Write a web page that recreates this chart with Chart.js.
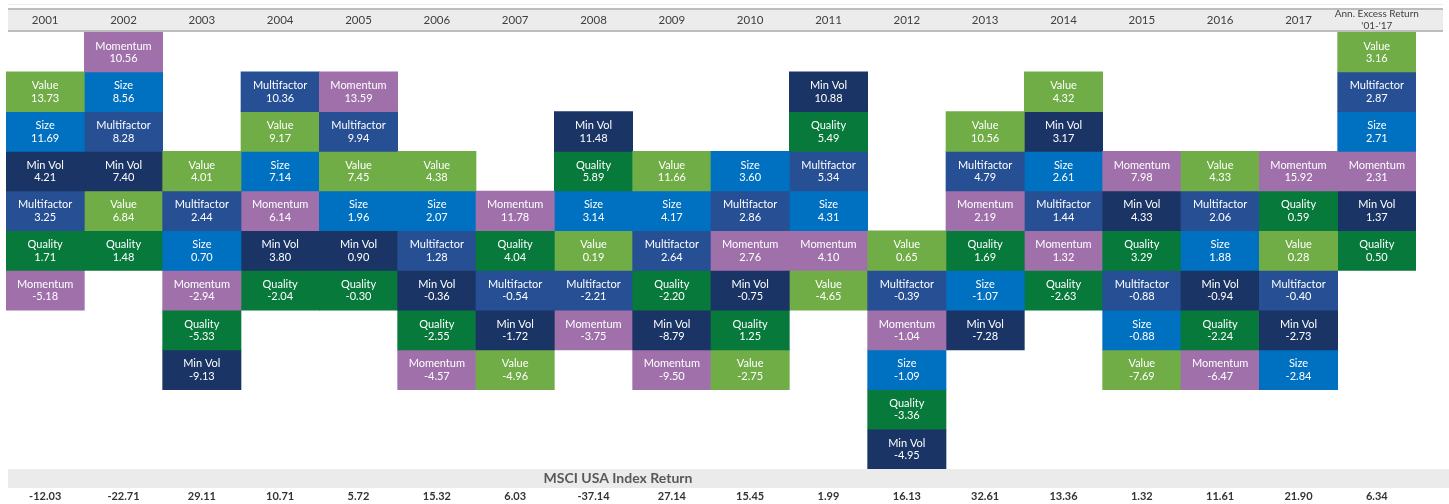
<!DOCTYPE html>
<html>
<head>
<meta charset="utf-8">
<script src="https://cdn.jsdelivr.net/npm/chart.js@4"></script>
<style>
  html, body { margin: 0; padding: 0; background: #fff; }
  #wrap { width: 1449px; height: 504px; }
</style>
</head>
<body>
<div id="wrap"><canvas id="chart"></canvas></div>
<script>
// columns
const years = ['2001', '2002', '2003', '2004', '2005', '2006', '2007', '2008', '2009',
  '2010', '2011', '2012', '2013', '2014', '2015', '2016', '2017', ['Ann. Excess Return', "'01-'17"]];

// factor ranking per column, top to bottom
const ranking = [
  ['Value', 'Size', 'Min Vol', 'Multifactor', 'Quality', 'Momentum'],
  ['Momentum', 'Size', 'Multifactor', 'Min Vol', 'Value', 'Quality'],
  ['Value', 'Multifactor', 'Size', 'Momentum', 'Quality', 'Min Vol'],
  ['Multifactor', 'Value', 'Size', 'Momentum', 'Min Vol', 'Quality'],
  ['Momentum', 'Multifactor', 'Value', 'Size', 'Min Vol', 'Quality'],
  ['Value', 'Size', 'Multifactor', 'Min Vol', 'Quality', 'Momentum'],
  ['Momentum', 'Quality', 'Multifactor', 'Min Vol', 'Value'],
  ['Min Vol', 'Quality', 'Size', 'Value', 'Multifactor', 'Momentum'],
  ['Value', 'Size', 'Multifactor', 'Quality', 'Min Vol', 'Momentum'],
  ['Size', 'Multifactor', 'Momentum', 'Min Vol', 'Quality', 'Value'],
  ['Min Vol', 'Quality', 'Multifactor', 'Size', 'Momentum', 'Value'],
  ['Value', 'Multifactor', 'Momentum', 'Size', 'Quality', 'Min Vol'],
  ['Value', 'Multifactor', 'Momentum', 'Quality', 'Size', 'Min Vol'],
  ['Value', 'Min Vol', 'Size', 'Multifactor', 'Momentum', 'Quality'],
  ['Momentum', 'Min Vol', 'Quality', 'Multifactor', 'Size', 'Value'],
  ['Value', 'Multifactor', 'Size', 'Min Vol', 'Quality', 'Momentum'],
  ['Momentum', 'Quality', 'Value', 'Multifactor', 'Min Vol', 'Size'],
  ['Value', 'Multifactor', 'Size', 'Momentum', 'Min Vol', 'Quality']
];

// excess returns in the same order
const excess = [
  [13.73, 11.69, 4.21, 3.25, 1.71, -5.18],
  [10.56, 8.56, 8.28, 7.40, 6.84, 1.48],
  [4.01, 2.44, 0.70, -2.94, -5.33, -9.13],
  [10.36, 9.17, 7.14, 6.14, 3.80, -2.04],
  [13.59, 9.94, 7.45, 1.96, 0.90, -0.30],
  [4.38, 2.07, 1.28, -0.36, -2.55, -4.57],
  [11.78, 4.04, -0.54, -1.72, -4.96],
  [11.48, 5.89, 3.14, 0.19, -2.21, -3.75],
  [11.66, 4.17, 2.64, -2.20, -8.79, -9.50],
  [3.60, 2.86, 2.76, -0.75, 1.25, -2.75],
  [10.88, 5.49, 5.34, 4.31, 4.10, -4.65],
  [0.65, -0.39, -1.04, -1.09, -3.36, -4.95],
  [10.56, 4.79, 2.19, 1.69, -1.07, -7.28],
  [4.32, 3.17, 2.61, 1.44, 1.32, -2.63],
  [7.98, 4.33, 3.29, -0.88, -0.88, -7.69],
  [4.33, 2.06, 1.88, -0.94, -2.24, -6.47],
  [15.92, 0.59, 0.28, -0.40, -2.73, -2.84],
  [3.16, 2.87, 2.71, 2.31, 1.37, 0.50]
];

const indexReturn = [-12.03, -22.71, 29.11, 10.71, 5.72, 15.32, 6.03, -37.14, 27.14,
  15.45, 1.99, 16.13, 32.61, 13.36, 1.32, 11.61, 21.90, 6.34];

const factorColors = {
  'Value': '#70ad47',
  'Size': '#0070c0',
  'Multifactor': '#264f94',
  'Min Vol': '#1a3565',
  'Quality': '#07793b',
  'Momentum': '#a070ab'
};

// cells above the line = leading positive values
const above = excess.map(col => {
  const k = col.findIndex(v => v <= 0);
  return k === -1 ? col.length : k;
});

const datasets = [];
for (let slot = 0; slot < 6; slot++) {
  datasets.push({
    data: excess.map((col, j) => slot < col.length ? [above[j] - slot - 1, above[j] - slot] : null),
    backgroundColor: ranking.map(col => factorColors[col[slot]] || '#fff'),
    borderWidth: 0,
    grouped: false,
    barPercentage: 1,
    categoryPercentage: 1,
    slot: slot
  });
}

const cellLabels = {
  id: 'cellLabels',
  afterDatasetsDraw(chart) {
    const ctx = chart.ctx;
    ctx.save();
    ctx.fillStyle = '#ffffff';
    ctx.font = '11px Lato';
    ctx.textAlign = 'center';
    ctx.textBaseline = 'middle';
    chart.data.datasets.forEach((ds, i) => {
      chart.getDatasetMeta(i).data.forEach((bar, j) => {
        if (ds.data[j] == null) return;
        const cy = (bar.y + bar.base) / 2;
        ctx.fillText(ranking[j][ds.slot], bar.x, cy - 6);
        ctx.fillText(excess[j][ds.slot].toFixed(2), bar.x, cy + 6.5);
      });
    });
    ctx.restore();
  }
};

const bands = {
  id: 'bands',
  beforeDraw(chart) {
    const ctx = chart.ctx, a = chart.chartArea;
    ctx.save();
    ctx.fillStyle = '#eeeeee';
    ctx.fillRect(8, 4, 1435, 1);
    ctx.fillStyle = '#ececec';
    ctx.fillRect(8, 9, 1435, 22);
    ctx.fillStyle = '#ebebeb';
    ctx.fillRect(8, a.bottom, 1441, 19);
    ctx.restore();
  },
  afterDraw(chart) {
    const ctx = chart.ctx, a = chart.chartArea;
    ctx.save();
    ctx.fillStyle = '#bdbdbd';
    ctx.fillRect(8, 8, 1435, 2);
    ctx.fillRect(8, 30, 1435, 2);
    ctx.fillStyle = '#595959';
    ctx.font = 'bold 14px Lato';
    ctx.textAlign = 'center';
    ctx.textBaseline = 'middle';
    ctx.fillText('MSCI USA Index Return', 618, a.bottom + 9.5);
    ctx.restore();
  }
};

new Chart(document.getElementById('chart'), {
  type: 'bar',
  data: { labels: years, datasets: datasets },
  options: {
    responsive: true,
    maintainAspectRatio: false,
    animation: false,
    layout: { padding: { left: 6, right: 33, top: 0, bottom: 0 } },
    plugins: { legend: { display: false }, tooltip: { enabled: false } },
    scales: {
      x: {
        position: 'top',
        grid: { display: false, drawTicks: false },
        border: { display: false },
        afterFit: s => { s.height = 31; },
        ticks: {
          autoSkip: false,
          maxRotation: 0,
          crossAlign: 'center',
          padding: 5.6,
          color: '#404040',
          font: c => c.index === 17 ? { family: 'Lato', size: 10 } : { family: 'Lato', size: 11.5 }
        }
      },
      x2: {
        type: 'category',
        position: 'bottom',
        offset: true,
        labels: indexReturn.map(v => v.toFixed(2)),
        grid: { display: false, drawTicks: false },
        border: { display: false },
        afterFit: s => { s.height = 35; },
        ticks: {
          autoSkip: false,
          maxRotation: 0,
          padding: 21,
          color: '#333333',
          font: { family: 'Lato', size: 11, weight: 'bold' }
        }
      },
      y: {
        display: false,
        min: -5,
        max: 6.03
      }
    }
  },
  plugins: [bands, cellLabels]
});
</script>
</body>
</html>
